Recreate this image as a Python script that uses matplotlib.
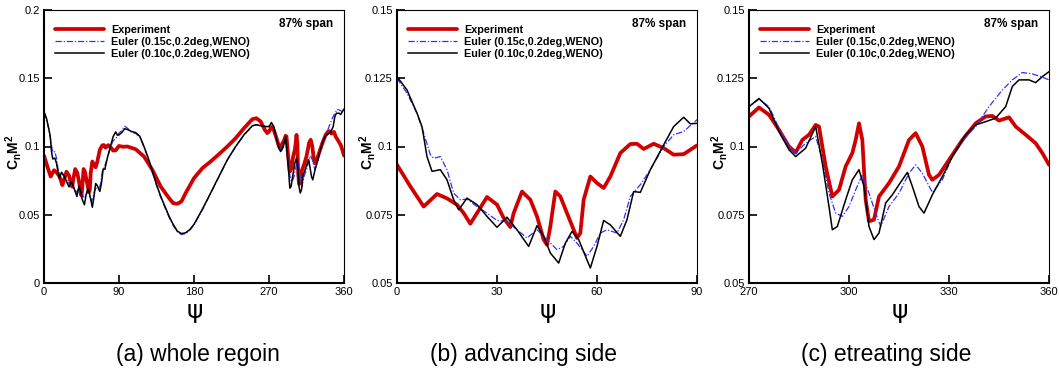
import numpy as np
import matplotlib
matplotlib.use("Agg")
import matplotlib.pyplot as plt

plt.rcParams["font.family"] = ["Liberation Sans", "DejaVu Sans"]
plt.rcParams["mathtext.fontset"] = "custom"
plt.rcParams["mathtext.rm"] = "Liberation Sans"
plt.rcParams["mathtext.bf"] = "Liberation Sans:bold"

# experiment
psi_exp = [0, 4, 8, 12, 15, 18, 20, 22, 24, 27, 30, 32, 34, 35, 37.5, 40, 42, 44, 45, 46,
           47.5, 49, 51, 53, 54, 55, 56, 58, 60, 62, 64, 67, 70, 72, 74, 77, 80, 83, 86, 90,
           95, 100, 110, 120, 130, 140, 150, 155, 160, 165, 170, 180, 190, 200, 210, 220,
           230, 240, 250, 255, 260, 265, 268, 270, 273, 276, 279, 282, 284, 286, 288, 290,
           291, 293, 295, 297, 299, 301, 302, 303, 304, 305, 306, 307.5, 309, 312, 315, 318,
           320, 322, 324, 325, 327, 330, 334, 338, 341, 343, 345, 348, 350, 353, 356, 358, 360]
cm2_exp = [0.0933, 0.0854, 0.078, 0.0826, 0.081, 0.0787, 0.0756, 0.0717, 0.0756, 0.0815,
           0.0787, 0.0738, 0.0705, 0.0756, 0.0835, 0.0805, 0.0744, 0.0659, 0.064, 0.0707,
           0.0835, 0.0817, 0.0756, 0.0695, 0.0665, 0.0683, 0.0805, 0.089, 0.0866, 0.0848,
           0.089, 0.0976, 0.1009, 0.101, 0.0991, 0.101, 0.0994, 0.097, 0.0972, 0.1004,
           0.0998, 0.1, 0.098, 0.0927, 0.0829, 0.0707, 0.0622, 0.0585, 0.058, 0.0598, 0.0659,
           0.0768, 0.0841, 0.089, 0.0944, 0.1, 0.1061, 0.1134, 0.12, 0.1207, 0.1183, 0.1122,
           0.1098, 0.111, 0.1143, 0.1116, 0.1061, 0.1, 0.0978, 0.1024, 0.1043, 0.1079, 0.1073,
           0.0927, 0.0817, 0.0841, 0.0927, 0.0976, 0.1024, 0.1085, 0.1024, 0.0805, 0.0726,
           0.0732, 0.0817, 0.0866, 0.0927, 0.1024, 0.1049, 0.1, 0.0896, 0.0878, 0.0896,
           0.0951, 0.1024, 0.1085, 0.111, 0.1112, 0.1095, 0.1107, 0.1073, 0.1043, 0.1012,
           0.0976, 0.0933]

# Euler 0.15c
psi_e15 = [0, 3, 6, 8, 10, 11, 13, 15, 17, 19, 21, 24, 27, 30, 33, 36, 39, 42, 45, 48, 50,
           52, 54, 57, 59, 61, 63, 66, 68, 70, 73, 76, 80, 83, 86, 90, 93, 97, 100, 105, 110,
           115, 120, 125, 130, 135, 140, 145, 150, 155, 160, 165, 170, 175, 180, 190, 200,
           210, 220, 230, 240, 250, 255, 260, 265, 270, 273, 276, 279, 282, 284, 287, 290,
           292, 294, 296, 298, 300, 302, 304, 306, 308, 309.5, 312, 315, 318, 320, 322, 325,
           328, 331, 335, 338, 342, 346, 349, 352, 355, 358, 360]
cm2_e15 = [0.125, 0.1195, 0.1122, 0.1049, 0.097, 0.0957, 0.0963, 0.0915, 0.0829, 0.0805,
           0.0807, 0.078, 0.0756, 0.0729, 0.0726, 0.0695, 0.0665, 0.0695, 0.0659, 0.0622,
           0.0634, 0.0671, 0.0646, 0.0598, 0.0634, 0.0683, 0.0695, 0.0683, 0.0732, 0.0817,
           0.086, 0.0915, 0.1, 0.1043, 0.1055, 0.1098, 0.1115, 0.1148, 0.1135, 0.1105, 0.1095,
           0.107, 0.0995, 0.091, 0.0812, 0.0715, 0.063, 0.0555, 0.0482, 0.0422, 0.0374,
           0.0355, 0.0362, 0.0387, 0.0425, 0.0535, 0.0657, 0.0778, 0.09, 0.0998, 0.1083,
           0.115, 0.1158, 0.115, 0.1145, 0.1146, 0.1173, 0.1146, 0.1067, 0.1, 0.0976, 0.1012,
           0.1037, 0.0951, 0.0829, 0.0756, 0.0744, 0.078, 0.0841, 0.0896, 0.0829, 0.0756,
           0.0707, 0.078, 0.0829, 0.0902, 0.0933, 0.0902, 0.0832, 0.0878, 0.0963, 0.1037,
           0.1073, 0.1146, 0.1207, 0.1244, 0.1271, 0.1266, 0.1254, 0.1244]

# Euler 0.10c
psi_e10 = [0, 3, 6, 7.5, 9, 10.5, 13, 15, 17, 18.5, 21, 24, 27, 30, 33, 36, 39.5, 42, 44,
           46, 48.5, 50.5, 52.5, 54.5, 58, 60, 62, 64, 67, 69, 71, 73, 76, 80, 83, 86, 88, 90,
           93, 97, 100, 105, 110, 115, 120, 125, 130, 135, 140, 145, 150, 155, 160, 165, 170,
           175, 180, 190, 200, 210, 220, 230, 240, 250, 255, 260, 265, 270, 273, 276, 279,
           282, 284, 287, 290, 292, 294, 295, 296.5, 299, 301, 303, 304.5, 306, 307.5, 309,
           311, 313, 315, 317.5, 319, 321, 322.5, 325, 328, 331, 335, 338, 341, 344, 347, 349,
           351, 354, 356, 358, 360]
cm2_e10 = [0.1256, 0.1207, 0.1122, 0.1073, 0.0963, 0.0909, 0.0915, 0.0878, 0.0805, 0.0768,
           0.0811, 0.0787, 0.0744, 0.0704, 0.0741, 0.0695, 0.0634, 0.071, 0.0671, 0.061,
           0.0573, 0.0646, 0.0689, 0.0659, 0.0555, 0.0634, 0.0729, 0.0713, 0.0671, 0.0732,
           0.0835, 0.0832, 0.0915, 0.1006, 0.1073, 0.1107, 0.1083, 0.1085, 0.11, 0.113, 0.1125,
           0.111, 0.1102, 0.1075, 0.1, 0.0918, 0.082, 0.0722, 0.0636, 0.0563, 0.049, 0.043,
           0.038, 0.0362, 0.0368, 0.0392, 0.043, 0.054, 0.066, 0.0782, 0.0903, 0.1, 0.1086,
           0.1152, 0.116, 0.1152, 0.1147, 0.1146, 0.1176, 0.114, 0.1055, 0.0988, 0.0963,
           0.0994, 0.1073, 0.0939, 0.078, 0.0695, 0.0707, 0.0805, 0.0878, 0.0915, 0.0854,
           0.0707, 0.0659, 0.0683, 0.0793, 0.0823, 0.086, 0.0905, 0.0854, 0.078, 0.0756,
           0.0823, 0.089, 0.0963, 0.1043, 0.1079, 0.1091, 0.1104, 0.1146, 0.122, 0.1244,
           0.1244, 0.1234, 0.1256, 0.1274]

panels = [
    dict(xlim=(0, 360), xticks=[0, 90, 180, 270, 360], ylim=(0, 0.2),
         yticks=[0, 0.05, 0.1, 0.15, 0.2], ylabels=["0", "0.05", "0.1", "0.15", "0.2"],
         caption="(a) whole regoin"),
    dict(xlim=(0, 90), xticks=[0, 30, 60, 90], ylim=(0.05, 0.15),
         yticks=[0.05, 0.075, 0.1, 0.125, 0.15],
         ylabels=["0.05", "0.075", "0.1", "0.125", "0.15"],
         caption="(b) advancing side"),
    dict(xlim=(270, 360), xticks=[270, 300, 330, 360], ylim=(0.05, 0.15),
         yticks=[0.05, 0.075, 0.1, 0.125, 0.15],
         ylabels=["0.05", "0.075", "0.1", "0.125", "0.15"],
         caption="(c) etreating side"),
]
lefts = [44, 397, 749]
cap_x = [198, 523, 886]

fig = plt.figure(figsize=(10.59, 3.72), dpi=100)
W, H = 1059, 372
for p, lx, capx in zip(panels, lefts, cap_x):
    ax = fig.add_axes([lx / W, 1 - 283 / H, 300 / W, 273 / H])
    ax.plot(psi_exp, cm2_exp, color="#d10000", lw=2.7, label="Experiment",
            solid_joinstyle="round", solid_capstyle="round")
    ax.plot(psi_e15, cm2_e15, color="#3030ff", lw=0.9, ls=(0, (5, 1.5, 1, 1.5)),
            label="Euler (0.15c,0.2deg,WENO)")
    ax.plot(psi_e10, cm2_e10, color="black", lw=1.1, label="Euler (0.10c,0.2deg,WENO)")
    ax.set_xlim(*p["xlim"])
    ax.set_ylim(*p["ylim"])
    ax.set_xticks(p["xticks"])
    ax.set_yticks(p["yticks"])
    ax.set_yticklabels(p["ylabels"])
    ax.tick_params(direction="in", length=6, width=1.2, labelsize=8, pad=3,
                   top=False, right=False)
    for s in ["left", "bottom"]:
        ax.spines[s].set_linewidth(1.5)
    for s in ["top", "right"]:
        ax.spines[s].set_linewidth(0.8)
    ax.set_ylabel(r"$\mathbf{C_nM^2}$", fontsize=10)
    ax.yaxis.set_label_coords(-0.065, 0.48)
    ax.text(0.963, 0.95, "87% span", transform=ax.transAxes, ha="right", va="center",
            fontsize=8.5, fontweight="bold")
    ax.legend(loc="upper left", bbox_to_anchor=(0.035, 0.945), frameon=False,
              prop=dict(size=7.8, weight="bold"), handlelength=4.6, handletextpad=0.6,
              labelspacing=0.18, borderpad=0, borderaxespad=0)
    fig.text((lx + 151) / W, 1 - 311 / H, "ψ", ha="center", va="center", fontsize=18,
             family="DejaVu Sans")
    fig.text(capx / W, 1 - 355 / H, p["caption"], ha="center", va="center", fontsize=16.5)

fig.savefig("out.png", dpi=100)
